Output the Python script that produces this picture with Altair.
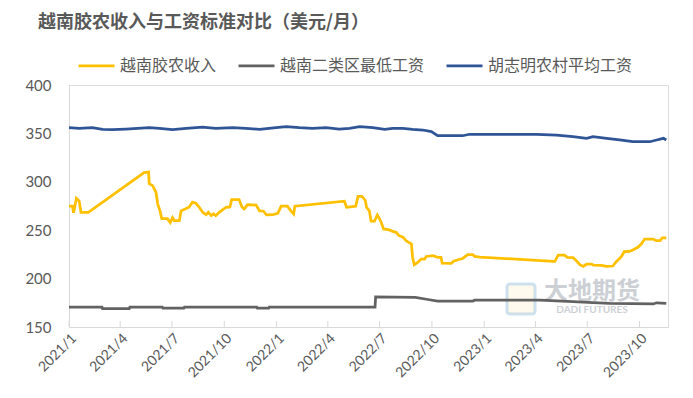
import altair as alt
import pandas as pd

series_names = ["越南胶农收入", "越南二类区最低工资", "胡志明农村平均工资"]
series_colors = ["#FFC000", "#626262", "#2F5597"]

income_dates = [
    "2021-01-01", "2021-01-07", "2021-01-09", "2021-01-14", "2021-01-19", "2021-01-22",
    "2021-02-04", "2021-05-13", "2021-05-21", "2021-05-22", "2021-05-28", "2021-06-03",
    "2021-06-06", "2021-06-10", "2021-06-13", "2021-06-23", "2021-06-28", "2021-07-02",
    "2021-07-05", "2021-07-14", "2021-07-17", "2021-07-31", "2021-08-06", "2021-08-12",
    "2021-08-18", "2021-08-24", "2021-08-30", "2021-09-03", "2021-09-08", "2021-09-12",
    "2021-09-16", "2021-09-22", "2021-10-04", "2021-10-11", "2021-10-14", "2021-10-27",
    "2021-11-01", "2021-11-05", "2021-11-11", "2021-11-26", "2021-12-02", "2021-12-09",
    "2021-12-14", "2021-12-25", "2022-01-03", "2022-01-09", "2022-01-20", "2022-01-26",
    "2022-01-31", "2022-02-02", "2022-04-30", "2022-05-04", "2022-05-20", "2022-05-24",
    "2022-05-31", "2022-06-06", "2022-06-08", "2022-06-13", "2022-06-16", "2022-06-22",
    "2022-06-27", "2022-07-01", "2022-07-04", "2022-07-08", "2022-07-18", "2022-07-24",
    "2022-07-30", "2022-08-04", "2022-08-11", "2022-08-17", "2022-08-26", "2022-08-28",
    "2022-08-31", "2022-09-06", "2022-09-12", "2022-09-18", "2022-09-21", "2022-10-03",
    "2022-10-11", "2022-10-17", "2022-10-19", "2022-11-04", "2022-11-08", "2022-11-16",
    "2022-11-24", "2022-12-03", "2022-12-12", "2022-12-15", "2022-12-24", "2023-05-02",
    "2023-05-05", "2023-05-11", "2023-05-22", "2023-05-27", "2023-06-06", "2023-06-12",
    "2023-06-18", "2023-06-24", "2023-06-30", "2023-07-08", "2023-07-12", "2023-07-26",
    "2023-08-04", "2023-08-15", "2023-08-21", "2023-08-30", "2023-09-04", "2023-09-13",
    "2023-09-19", "2023-09-28", "2023-10-04", "2023-10-10", "2023-10-25", "2023-10-30",
    "2023-11-06", "2023-11-10", "2023-11-17",
]
income_values = [
    275, 275, 268, 283, 280, 268.5,
    268.5, 309.5, 310, 298, 296, 289,
    277, 270, 262, 262, 258, 263,
    260, 260, 270, 273.7, 279, 278,
    273.7, 268.5, 266, 268.5, 265, 267,
    265, 268.5, 273.7, 274, 281.7, 281.7,
    274, 272, 276.5, 276, 270, 269.6,
    265.8, 266, 267.5, 274.8, 274.8, 270,
    266.8, 274.8, 280, 273.7, 274.8, 285,
    285, 280.7, 273.7, 270, 259.3, 259.3,
    265.8, 261.7, 258, 251.3, 250.3, 248.8,
    247.8, 244.4, 242.8, 239, 235.7, 221.9,
    214.3, 216.7, 220.2, 220.2, 222.9, 223.6,
    221.9, 222, 216, 215.7, 218, 219.5,
    220.8, 224.7, 224.7, 223, 222.3, 217.7,
    217.7, 224.3, 224.3, 221.9, 221.6, 218.4,
    214.3, 212.6, 215, 215, 214, 213.6,
    212.6, 213, 217.4, 222.6, 227.8, 228,
    229.6, 232.3, 235.7, 240.9, 240.9, 239.2,
    239.2, 242, 242,
]

minwage_dates = [
    "2021-01-01", "2021-02-28", "2021-03-01", "2021-04-17", "2021-04-18", "2021-06-14",
    "2021-06-15", "2021-07-22", "2021-07-23", "2021-11-27", "2021-11-28", "2021-12-18",
    "2021-12-19", "2022-06-23", "2022-06-24", "2022-09-02", "2022-09-24", "2022-10-11",
    "2022-12-12", "2022-12-15", "2023-04-09", "2023-06-06", "2023-07-11", "2023-08-09",
    "2023-10-25", "2023-10-31", "2023-11-17",
]
minwage_values = [
    170.5, 170.5, 169, 169, 170.5, 170.5,
    169.6, 169.6, 170.5, 170.5, 169.6, 169.6,
    170.5, 170.5, 181.2, 180.6, 178.4, 176.8,
    176.8, 177.7, 177.7, 176.2, 175.2, 174.4,
    173.8, 175, 174.5,
]

rural_dates = [
    "2021-01-01", "2021-01-19", "2021-02-11", "2021-03-01", "2021-03-18", "2021-04-11",
    "2021-05-22", "2021-06-09", "2021-07-02", "2021-07-26", "2021-08-24", "2021-09-16",
    "2021-10-16", "2021-11-08", "2021-12-02", "2021-12-31", "2022-01-18", "2022-02-10",
    "2022-03-05", "2022-03-29", "2022-04-21", "2022-05-09", "2022-05-27", "2022-06-19",
    "2022-07-10", "2022-07-24", "2022-08-11", "2022-08-28", "2022-09-15", "2022-09-30",
    "2022-10-11", "2022-11-24", "2022-12-06", "2023-04-03", "2023-05-08", "2023-06-06",
    "2023-06-30", "2023-07-11", "2023-08-04", "2023-08-27", "2023-09-19", "2023-10-19",
    "2023-10-31", "2023-11-12", "2023-11-17",
]
rural_values = [
    355.9, 355.3, 355.9, 354.2, 353.9, 354.5,
    355.9, 355.3, 353.9, 355.3, 356.6, 355.3,
    355.9, 355.3, 354.2, 355.9, 357, 355.9,
    355.3, 355.9, 354.5, 355.3, 357, 355.9,
    354.2, 355.3, 355.3, 354.2, 353.5, 351.8,
    347.6, 347.6, 349.1, 349.1, 348.3, 346.6,
    344.9, 346.6, 344.9, 343.2, 341.4, 341.4,
    343.2, 344.9, 343.2,
]

tick_dates = [
    "2021-01-01", "2021-04-01", "2021-07-01", "2021-10-01",
    "2022-01-01", "2022-04-01", "2022-07-01", "2022-10-01",
    "2023-01-01", "2023-04-01", "2023-07-01", "2023-10-01",
]
x_domain = ["2021-01-01", "2023-11-20"]
y_ticks = [150, 200, 250, 300, 350, 400]

watermark_cn = "大地期货"
watermark_en = "DADI FUTURES"


def ts(s):
    return int(pd.Timestamp(s, tz="UTC").timestamp() * 1000)


frames = []
for name, d, v in [
    (series_names[0], income_dates, income_values),
    (series_names[1], minwage_dates, minwage_values),
    (series_names[2], rural_dates, rural_values),
]:
    frames.append(pd.DataFrame({"date": d, "value": v, "series": name}))
df = pd.concat(frames, ignore_index=True)
ticks_df = pd.DataFrame({"date": tick_dates})

FONT = "Noto Sans CJK SC"
NUMFONT = "Lato"
TXT = "#595959"

x_scale = alt.Scale(type="utc", domain=[ts(x_domain[0]), ts(x_domain[1])])
y_scale = alt.Scale(domain=[150, 400], nice=False, zero=False)

lines = alt.Chart(df).mark_line(strokeWidth=2.75).encode(
    x=alt.X(
        "date:T",
        scale=x_scale,
        title=None,
        axis=alt.Axis(
            values=[ts(t) for t in tick_dates],
            format="%Y/%-m",
            labelAngle=-45,
            labelFont=NUMFONT,
            labelFontSize=14,
            labelColor=TXT,
            labelPadding=4,
            ticks=False,
            grid=False,
            domainColor="#D9D9D9",
            domainWidth=1,
        ),
    ),
    y=alt.Y(
        "value:Q",
        scale=y_scale,
        title=None,
        axis=alt.Axis(
            values=y_ticks,
            labelFont=NUMFONT,
            labelFontSize=15,
            labelColor=TXT,
            labelPadding=18,
            ticks=False,
            grid=False,
            domainColor="#D9D9D9",
            domainWidth=1,
        ),
    ),
    color=alt.Color(
        "series:N",
        scale=alt.Scale(domain=series_names, range=series_colors),
        sort=series_names,
        legend=alt.Legend(
            orient="none",
            legendX=8,
            legendY=-39,
            direction="horizontal",
            title=None,
            symbolType="stroke",
            symbolSize=1296,
            symbolStrokeWidth=2.75,
            labelFont=FONT,
            labelFontSize=16,
            labelColor=TXT,
            labelOffset=4,
            labelLimit=400,
            columnPadding=16,
            padding=0,
        ),
    ),
    detail="series:N",
)

tick_marks = alt.Chart(ticks_df).mark_rule(color="#D9D9D9", strokeWidth=1).encode(
    x=alt.X("date:T", scale=x_scale),
    y=alt.datum(150),
    y2=alt.datum(156.2),
)

wm_df = pd.DataFrame({"cn": [watermark_cn], "en": [watermark_en]})
wm_logo = alt.Chart(wm_df).mark_rect(
    fill="#FFF2CC", fillOpacity=0.35, stroke="#9DC3E6", strokeWidth=3, strokeOpacity=0.5, cornerRadius=3
).encode(x=alt.value(438), x2=alt.value(466), y=alt.value(199), y2=alt.value(229))
wm_cn = alt.Chart(wm_df).mark_text(
    font=FONT, fontSize=24, fontWeight="bold", color="#9AA3AD", opacity=0.5, align="center", baseline="middle"
).encode(text="cn:N", x=alt.value(523), y=alt.value(207))
wm_en = alt.Chart(wm_df).mark_text(
    font=NUMFONT, fontSize=10, fontWeight="bold", color="#9AA3AD", opacity=0.5, align="center", baseline="middle"
).encode(text="en:N", x=alt.value(523), y=alt.value(225))

chart = alt.layer(wm_logo, wm_cn, wm_en, tick_marks, lines).properties(
    width=599,
    height=242,
    autosize=alt.AutoSizeParams(type="none"),
    padding={"left": 61, "top": 77, "right": 8, "bottom": 70},
    title=alt.TitleParams(
        "越南胶农收入与工资标准对比（美元/月）",
        anchor="start",
        frame="group",
        font=FONT,
        fontSize=18,
        fontWeight="bold",
        color=TXT,
        dx=-31,
        offset=14,
    ),
).configure_view(stroke=None).configure(background="white")

chart.save("out.html", embed_options={"renderer": "svg", "actions": False})
